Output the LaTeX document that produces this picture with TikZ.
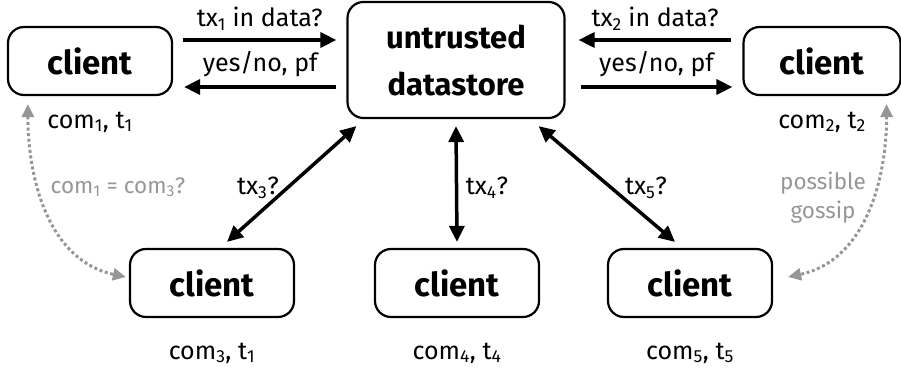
\documentclass[tikz,border=0pt]{standalone}
\usepackage{fontspec}
\setmainfont{Fira Sans}
\usetikzlibrary{arrows.meta,calc}
\definecolor{gossipgray}{RGB}{150,150,150}
\begin{document}
\begin{tikzpicture}[x=1pt,y=-1pt,
  box/.style={draw, line width=2.2pt, rounded corners=16pt, minimum width=164pt, minimum height=68pt, inner sep=0pt, font=\bfseries\fontsize{33}{36}\selectfont},
  lbl/.style={font=\fontsize{25}{28}\selectfont, inner sep=0pt},
  glbl/.style={font=\fontsize{22.5}{29}\selectfont, text=gossipgray, inner sep=0pt, align=center},
  arr/.style={line width=3.5pt, -{Triangle[length=16pt,width=15pt]}},
  darr/.style={line width=3.5pt, {Triangle[length=16pt,width=15pt]}-{Triangle[length=16pt,width=15pt]}},
  garr/.style={draw=gossipgray, line width=3pt, dash pattern=on 3pt off 2.6pt, {Triangle[length=13pt,width=12pt]}-{Triangle[length=13pt,width=12pt]}}
]
\useasboundingbox (0,0) rectangle (901,369);
\node[box] (c1) at (90,61) {client};
\node[box, minimum width=217pt, minimum height=116pt, align=center, font=\bfseries\fontsize{31}{47}\selectfont] (ds) at (456,60) {untrusted\\datastore};
\node[box, minimum width=157pt] (c2) at (822,61) {client};
\node[box] (c3) at (212,283) {client};
\node[box] (c4) at (457,283) {client};
\node[box] (c5) at (690,283) {client};

\node[lbl] (l1) at (90,122) {com\textsubscript{1}, t\textsubscript{1}};
\node[lbl] (l2) at (822,122) {com\textsubscript{2}, t\textsubscript{2}};
\node[lbl] (l3) at (212,353) {com\textsubscript{3}, t\textsubscript{1}};
\node[lbl] (l4) at (457,353) {com\textsubscript{4}, t\textsubscript{4}};
\node[lbl] (l5) at (690,353) {com\textsubscript{5}, t\textsubscript{5}};

% top-left arrows
\draw[arr] ($(c1.east)+(10,-21)$) -- ($(ds.west|-c1.east)+(-10,-21)$)
  node[lbl, midway, above=8pt] (q1) {tx\textsubscript{1} in data?};
\draw[arr] ($(ds.west|-c1.east)+(-10,26)$) -- ($(c1.east)+(11,26)$)
  node[lbl, midway, above=8pt] (r1) {yes/no, pf};
% top-right arrows
\draw[arr] ($(c2.west)+(-11,-21)$) -- ($(ds.east|-c2.west)+(13,-21)$)
  node[lbl, midway, above=8pt] (q2) {tx\textsubscript{2} in data?};
\draw[arr] ($(ds.east|-c2.west)+(15,26)$) -- ($(c2.west)+(-10,26)$)
  node[lbl, midway, above=8pt] (r2) {yes/no, pf};

% spokes
\draw[darr] ($(ds.south west)+(10,7)$) -- ($(c3.north)+(15,-6)$);
\draw[darr] ($(ds.south)+(0,7)$) -- ($(c4.north)+(0,-6)$);
\draw[darr] ($(ds.south east)+(-27,7)$) -- ($(c5.north)+(-15,-6)$);
\node[lbl] (t3) at (258,188) {tx\textsubscript{3}?};
\node[lbl] (t4) at (487,188) {tx\textsubscript{4}?};
\node[lbl] (t5) at (646,188) {tx\textsubscript{5}?};

% gossip
\draw[garr] ($(c1.south west)+(21,8)$) to[out=-90,in=168] ($(c3.west)+(-3,-6)$);
\draw[garr] ($(c2.south east)+(-15,8)$) to[out=-90,in=12] ($(c5.east)+(15,-6)$);
\node[glbl] (g1) at (118,187) {com\textsubscript{1} = com\textsubscript{3}?};
\node[glbl] (g2) at (823,198) {possible\\gossip};
\end{tikzpicture}
\end{document}
